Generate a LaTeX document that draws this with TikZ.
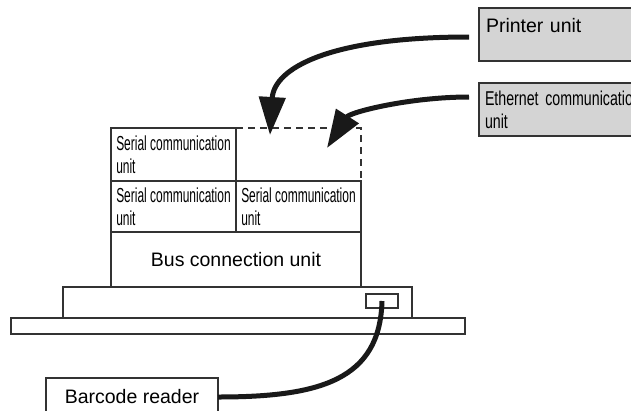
\documentclass[tikz,border=0pt]{standalone}
\usepackage{fontspec}
\setmainfont{Liberation Sans}
\newfontfamily\serialfont[FakeStretch=0.59]{Liberation Sans}
\newfontfamily\ethfont[FakeStretch=0.71]{Liberation Sans}
\usetikzlibrary{arrows.meta}
\definecolor{boxline}{gray}{0.2}
\definecolor{unitgray}{gray}{0.83}
\definecolor{wire}{gray}{0.1}
\begin{document}
\begin{tikzpicture}[x=1pt,y=-1pt,
  box/.style={draw=boxline, line width=1.2pt, inner sep=0pt, outer sep=0pt, anchor=north west},
  bigfont/.style={font=\fontsize{19.5}{23}\selectfont},
  serialbox/.style={box, minimum width=125pt, align=left, font=\serialfont\fontsize{20.3}{23}\selectfont},
  graybox/.style={box, fill=unitgray, text width=184pt, inner xsep=6pt, align=left},
  bigarrow/.style={draw=wire, line width=5pt, -{Triangle[length=38pt,width=26pt]}},
  cable/.style={draw=wire, line width=5pt},
  slot/.style={draw=boxline, line width=1.2pt, dash pattern=on 7pt off 5pt}
]
\clip (0,0) rectangle (631,410);
\fill[white] (0,0) rectangle (631,410);

% gray units
\node[graybox, bigfont, inner xsep=7pt, inner ysep=0pt, text height=24pt, text depth=29pt] (printer) at (479,8) {Printer unit};
\node[graybox, minimum height=53pt, font=\ethfont\fontsize{20}{23}\selectfont] (ether) at (479,83) {Ethernet communication\\unit};

% stack
\node[serialbox, minimum height=53pt] (s1) at (111,128) {Serial communication\\unit};
\node[serialbox, minimum height=51pt] (s2) at (111,181) {Serial communication\\unit};
\node[serialbox, minimum height=51pt] (s3) at (236,181) {Serial communication\\unit};
\node[box, bigfont, minimum width=250pt, minimum height=55pt] (bus) at (111,232) {Bus connection unit};
\node[box, minimum width=349pt, minimum height=31pt] (base) at (63,287) {};
\node[box, minimum width=454pt, minimum height=16pt] (plate) at (11,318) {};
\node[box, minimum width=32pt, minimum height=14pt] (conn) at (366,294) {};
\node[box, bigfont, minimum width=172pt, minimum height=38pt] (barcode) at (46,378) {Barcode reader};

% empty slot
\coordinate (slotNE) at (361,128);
\draw[slot] (s1.north east) -- (slotNE) -- (s3.north east);

% arrows
\coordinate (tipA) at (270,135);
\coordinate (tipB) at (327,148);
\draw[bigarrow] ([xshift=-10pt,yshift=-2.5pt]printer.west) .. controls (330,37) and (274,68) .. (tipA);
\draw[bigarrow] ([xshift=-10pt,yshift=12.5pt]ether.west) .. controls (410,97) and (350,112) .. (tipB);

% cable
\draw[cable] (conn.center) .. controls (380,380) and (320,397) .. (barcode.east);
\end{tikzpicture}
\end{document}
